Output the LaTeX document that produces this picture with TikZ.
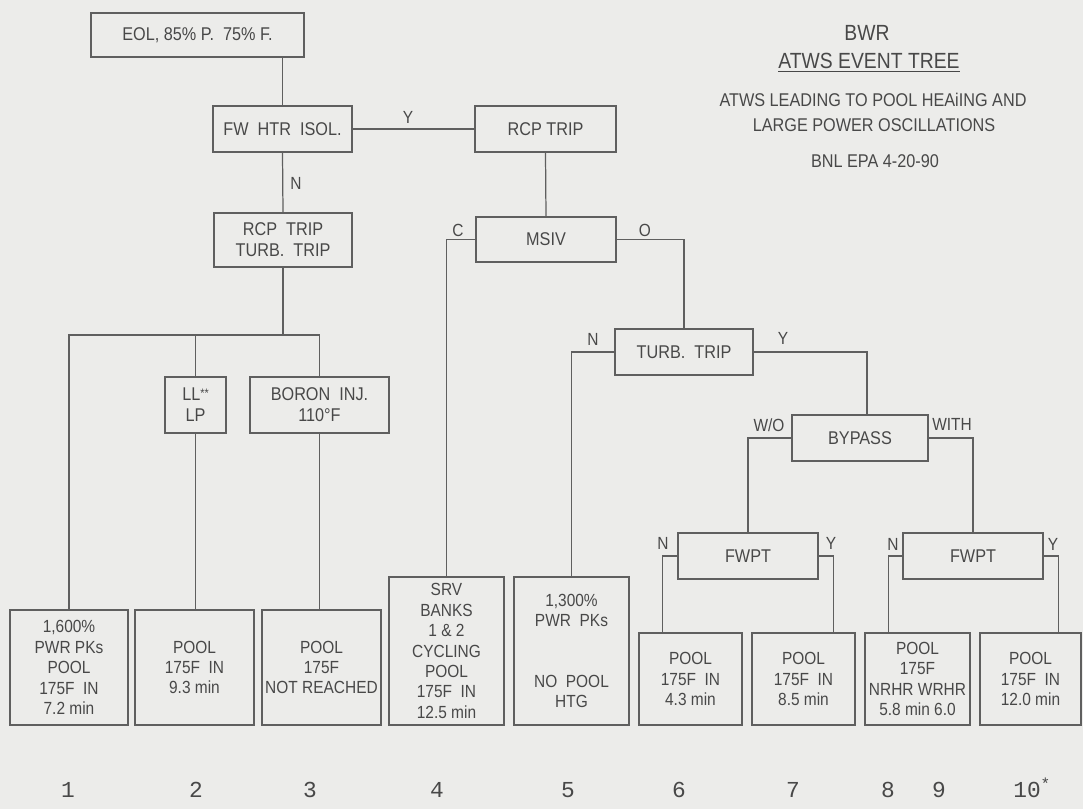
\documentclass[tikz,border=0pt]{standalone}
\usepackage{fontspec}
\setmainfont{Liberation Sans}[FakeStretch=0.88]
\newfontfamily\numfont{Liberation Mono}
\usepackage{tikz}
\usetikzlibrary{positioning}
\definecolor{paper}{RGB}{236,236,234}
\definecolor{treeline}{RGB}{95,95,95}
\definecolor{treetext}{RGB}{72,72,72}

\begin{document}
\begin{tikzpicture}[x=0.02cm, y=-0.02cm,
    box/.style={rectangle, draw=treeline, line width=0.7pt, inner sep=0pt,
                font=\fontsize{10.5}{12}\selectfont, align=center, text=treetext},
    outc/.style={box, font=\fontsize{10}{11.6}\selectfont},
    link/.style={draw=treeline, line width=0.7pt},
    note/.style={font=\fontsize{10}{12}\selectfont, text=treetext, inner sep=0pt},
    num/.style={font=\numfont\fontsize{13}{15}\selectfont, text=treetext,
                anchor=base, inner sep=0pt},
  ]
  \fill[paper] (0,0) rectangle (1083,809);
  \useasboundingbox (0,0) rectangle (1083,809);

  % Naslov
  \node[note, font=\fontsize{12.5}{14}\selectfont] (bwr) at (867,33) {BWR};
  \node[note, font=\fontsize{12.5}{14}\selectfont] (title) at (869,63)
    {\underline{ATWS EVENT TREE}};
  \node[note, font=\fontsize{10.5}{12}\selectfont] (sub1) at (873,100)
    {ATWS LEADING TO POOL HEAiING AND};
  \node[note, font=\fontsize{10.5}{12}\selectfont] (sub2) at (874,125)
    {LARGE POWER OSCILLATIONS};
  \node[note, font=\fontsize{10.5}{12}\selectfont] (bnl) at (875,161)
    {BNL EPA 4-20-90};

  % Gornji cvorovi
  \node[box, minimum width=4.26cm, minimum height=0.88cm] (eol) at (197.5,35)
    {EOL, 85\% P. \ 75\% F.};
  \node[box, minimum width=2.78cm, minimum height=0.92cm] (fw) at (282.5,129)
    {FW \ HTR \ ISOL.};
  \node[box, minimum width=2.82cm, minimum height=0.92cm] (rcp) at (545.5,129)
    {RCP TRIP};
  \node[box, minimum width=2.76cm, minimum height=1.08cm] (rcpturb) at (283,240)
    {RCP \ TRIP\\TURB. \ TRIP};
  \node[box, minimum width=2.80cm, minimum height=0.90cm] (msiv) at (546,239.5)
    {MSIV};
  \node[box, minimum width=1.22cm, minimum height=1.12cm] (ll) at (195.5,405)
    {LL\raisebox{0.35ex}{\scriptsize**}\\LP};
  \node[box, minimum width=2.78cm, minimum height=1.12cm] (boron) at (319.5,405)
    {BORON \ INJ.\\110°F};
  \node[box, minimum width=2.76cm, minimum height=0.92cm] (turb) at (684,352)
    {TURB. \ TRIP};
  \node[box, minimum width=2.72cm, minimum height=0.92cm] (bypass) at (860,438)
    {BYPASS};
  \node[box, minimum width=2.80cm, minimum height=0.92cm] (fwpt1) at (748,556)
    {FWPT};
  \node[box, minimum width=2.80cm, minimum height=0.92cm] (fwpt2) at (973,556)
    {FWPT};

  % Ishodi
  \node[outc, minimum width=2.36cm, minimum height=2.30cm] (o1) at (69,667.5)
    {1,600\%\\PWR PKs\\POOL\\175F \ IN\\7.2 min};
  \node[outc, minimum width=2.38cm, minimum height=2.30cm] (o2) at (194.5,667.5)
    {POOL\\175F \ IN\\9.3 min};
  \node[outc, minimum width=2.38cm, minimum height=2.30cm] (o3) at (321.5,667.5)
    {POOL\\175F\\NOT REACHED};
  \node[outc, minimum width=2.30cm, minimum height=2.96cm] (o4) at (446.5,651)
    {SRV\\BANKS\\1 \& 2\\CYCLING\\POOL\\175F \ IN\\12.5 min};
  \node[outc, minimum width=2.30cm, minimum height=2.96cm] (o5) at (571.5,651)
    {1,300\%\\PWR \ PKs\\[23pt]NO \ POOL\\HTG};
  \node[outc, minimum width=2.06cm, minimum height=1.84cm] (o6) at (690.5,679)
    {POOL\\175F \ IN\\4.3 min};
  \node[outc, minimum width=2.06cm, minimum height=1.84cm] (o7) at (803.5,679)
    {POOL\\175F \ IN\\8.5 min};
  \node[outc, minimum width=2.10cm, minimum height=1.84cm] (o8) at (917.5,679)
    {POOL\\175F\\NRHR WRHR\\5.8 min 6.0};
  \node[outc, minimum width=2.02cm, minimum height=1.84cm] (o10) at (1030.5,679)
    {POOL\\175F \ IN\\12.0 min};

  % Veze
  \draw[link] (eol.south -| fw.north) -- (fw.north);
  \draw[link] (fw.east) -- (rcp.west);
  \draw[link] (fw.south) -- (rcpturb.north);
  \draw[link] (rcp.south) -- (msiv.north);
  \coordinate (split) at (283,335);
  \draw[link] (rcpturb.south) -- (split);
  \draw[link] (o1.north) |- (split) -| (boron.north);
  \draw[link] (ll.north |- split) -- (ll.north);
  \draw[link] (ll.south) -- (ll.south |- o2.north);
  \draw[link] (boron.south) -- (boron.south |- o3.north);
  \draw[link] (msiv.west) -| (o4.north);
  \draw[link] (msiv.east) -| (turb.north);
  \draw[link] (turb.west) -| (o5.north);
  \draw[link] (turb.east) -| ([xshift=0.14cm]bypass.north);
  \draw[link] (bypass.west) -| (fwpt1.north);
  \draw[link] (bypass.east) -| (fwpt2.north);
  \draw[link] (fwpt1.west) -- ++(-15,0) coordinate (n6) -- (n6 |- o6.north);
  \draw[link] (fwpt1.east) -- ++(15,0) coordinate (n7) -- (n7 |- o7.north);
  \draw[link] (fwpt2.west) -- ++(-14,0) coordinate (n8) -- (n8 |- o8.north);
  \draw[link] (fwpt2.east) -- ++(15,0) coordinate (n10) -- (n10 |- o10.north);

  % Oznake grana
  \node[note] (lfwy) at (408,117) {Y};
  \node[note] (lfwn) at (296,183) {N};
  \node[note] (lmc) at (458,230) {C};
  \node[note] (lmo) at (645,230) {O};
  \node[note] (lttn) at (593,339) {N};
  \node[note] (ltty) at (783,338) {Y};
  \node[note] (lwo) at (769,425) {W/O};
  \node[note] (lwith) at (952,424) {WITH};
  \node[note] (l6) at (663,543) {N};
  \node[note] (l7) at (831,543) {Y};
  \node[note] (l8) at (893,544) {N};
  \node[note] (l10) at (1053,544) {Y};

  % Brojevi sekvenci
  \foreach \x/\t in {68/1,196/2,310/3,437/4,568/5,679/6,793/7,888/8,939/9}
    \node[num] (seq\t) at (\x,797) {\t};
  \node[num] (seq10) at (1027,797) {10\rlap{\textsuperscript{*}}};
\end{tikzpicture}
\end{document}
